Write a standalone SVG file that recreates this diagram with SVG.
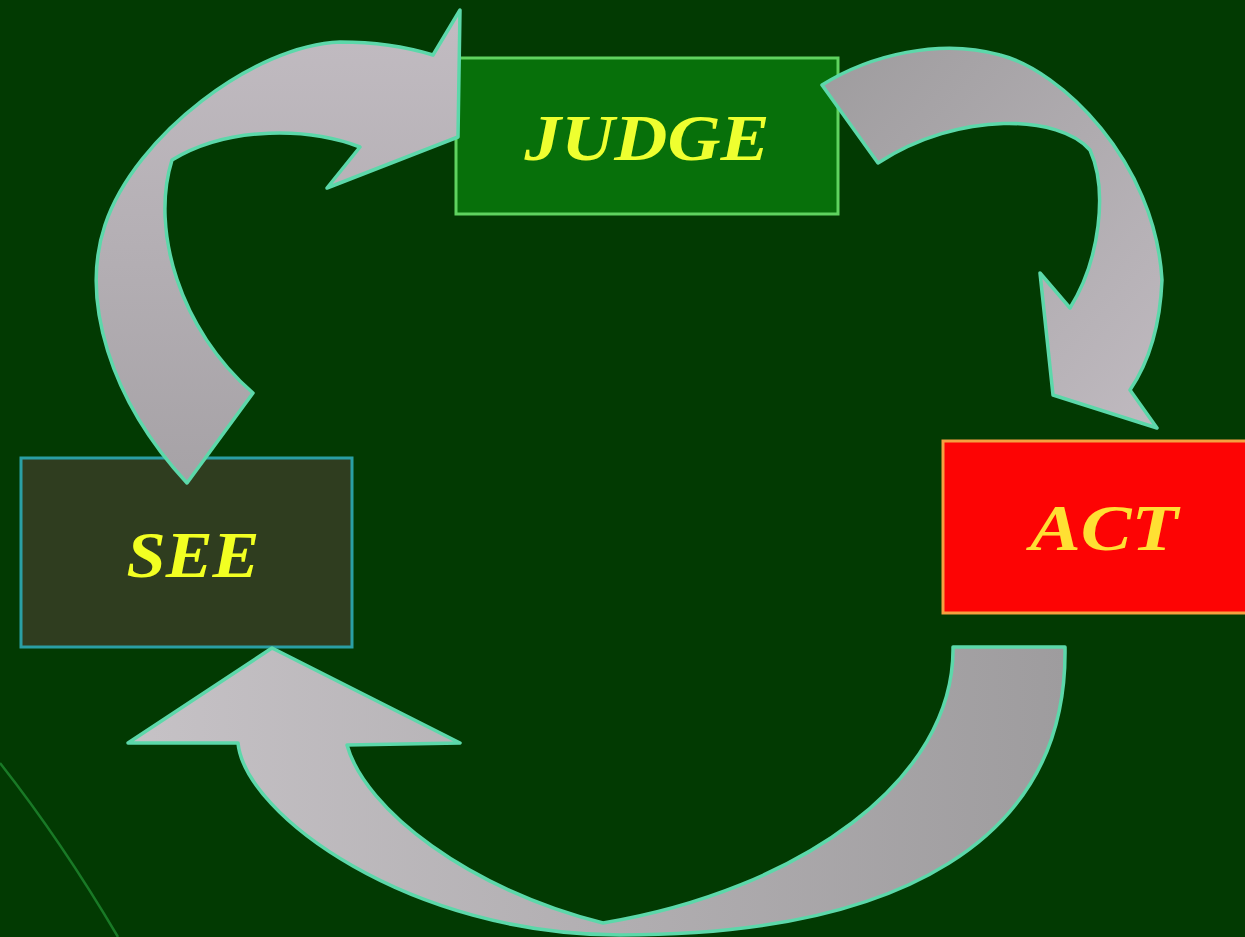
<svg xmlns="http://www.w3.org/2000/svg" width="1245" height="937" viewBox="0 0 1245 937">
  <defs>
    <linearGradient id="g1" x1="0" y1="0" x2="0" y2="1">
      <stop offset="0" stop-color="#c2bcc2"/>
      <stop offset="1" stop-color="#a6a2a6"/>
    </linearGradient>
    <linearGradient id="g2" x1="0" y1="0" x2="1" y2="1">
      <stop offset="0" stop-color="#9e9c9e"/>
      <stop offset="1" stop-color="#c0bac0"/>
    </linearGradient>
    <linearGradient id="g3" x1="0" y1="0" x2="1" y2="0">
      <stop offset="0" stop-color="#c6c2c6"/>
      <stop offset="1" stop-color="#9e9c9e"/>
    </linearGradient>
  </defs>
  <style>
    .arrow { stroke: #5cd8aa; stroke-width: 3.5; stroke-linejoin: round; }
    .box { stroke-width: 3; }
    .lbl { font-family: "Liberation Serif", "Times New Roman", serif; font-weight: bold; font-style: italic; font-size: 65px; text-anchor: middle; }
  </style>
  <rect x="0" y="0" width="1245" height="937" fill="#023a02"/>
  <path d="M0,763 Q62,842 118,937" fill="none" stroke="#1f8a2f" stroke-width="2.5" opacity="0.8"/>

  <g id="see">
    <rect class="box" x="21" y="458" width="331" height="189" fill="#2f3d1f" stroke="#2a9fa5"/>
    <text class="lbl" x="193" y="577" fill="#f2ff22" textLength="133" lengthAdjust="spacingAndGlyphs">SEE</text>
  </g>

  <g id="judge">
    <rect class="box" x="456" y="58" width="382" height="156" fill="#07700a" stroke="#5fd35f"/>
    <text class="lbl" x="647" y="160" fill="#eeff30" textLength="245" lengthAdjust="spacingAndGlyphs">JUDGE</text>
  </g>

  <g id="act">
    <rect class="box" x="943" y="441" width="310" height="172" fill="#fd0404" stroke="#f5a040"/>
    <text class="lbl" x="1104" y="550" fill="#ffe033" textLength="148" lengthAdjust="spacingAndGlyphs">ACT</text>
  </g>

  <g id="connectors">
    <path class="arrow" fill="url(#g1)" d="M 460,10 L 458,137 L 327,188 L 360,147 C 310,128 230,125 172,160 C 150,230 180,330 253,393 L 187,483 C 110,400 80,300 105,225 C 135,135 255,45 340,42 C 380,42 410,48 433,55 Z"/>
    <path class="arrow" fill="url(#g2)" d="M 822,85 C 870,55 940,38 1000,55 C 1060,70 1155,160 1162,280 C 1160,330 1147,365 1130,390 L 1157,428 L 1053,395 L 1040,273 L 1070,308 C 1100,260 1108,190 1090,150 C 1060,115 960,110 878,163 Z"/>
    <path class="arrow" fill="url(#g3)" d="M 1065,647 C 1068,840 900,935 620,935 C 410,935 245,815 238,743 L 128,743 L 272,648 L 460,743 L 347,745 C 365,810 470,890 603,923 C 800,890 955,780 953,647 Z"/>
  </g>
</svg>
